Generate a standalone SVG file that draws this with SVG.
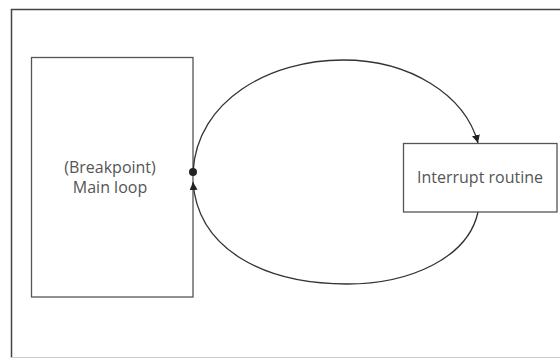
<svg xmlns="http://www.w3.org/2000/svg" width="560" height="358" viewBox="0 0 560 358">
<style>
.box{fill:#fff;stroke:#555;stroke-width:1.3}
.lbl{font-family:"Open Sans","Noto Sans",sans-serif;font-size:16px;fill:#555;text-anchor:middle}
.conn{fill:none;stroke:#333;stroke-width:1.3}
</style>
<defs>
<marker id="arr" viewBox="0 0 10 10" refX="10" refY="5" markerWidth="8" markerHeight="8" markerUnits="userSpaceOnUse" orient="auto">
<path d="M0,0 L10,5 L0,10 z" fill="#222"/>
</marker>
</defs>
<rect width="560" height="358" fill="#fff"/>
<g id="frame">
<path d="M11.5,358 L11.5,9.5 L560,9.5" fill="none" stroke="#444" stroke-width="1.5"/>
<line x1="11" y1="357.5" x2="560" y2="357.5" stroke="#ccc" stroke-width="1"/>
</g>
<g id="main-loop">
<rect class="box" x="31.5" y="57.5" width="161.5" height="239.5"/>
<text class="lbl" x="110" y="173">(Breakpoint)</text>
<text class="lbl" x="110" y="193">Main loop</text>
</g>
<g id="interrupt-routine">
<rect class="box" x="403.5" y="143.5" width="153.5" height="68.5"/>
<text class="lbl" x="480" y="183">Interrupt routine</text>
</g>
<g id="connectors">
<path class="conn" d="M193,172 C197,100 270,60 343,60 C410,60 465,95 478,143" marker-end="url(#arr)"/>
<path class="conn" d="M478,212 C468,258 410,284 347,284 C265,284 198,250 193,182" marker-end="url(#arr)"/>
<circle cx="193" cy="172" r="4" fill="#222"/>
</g>
</svg>
